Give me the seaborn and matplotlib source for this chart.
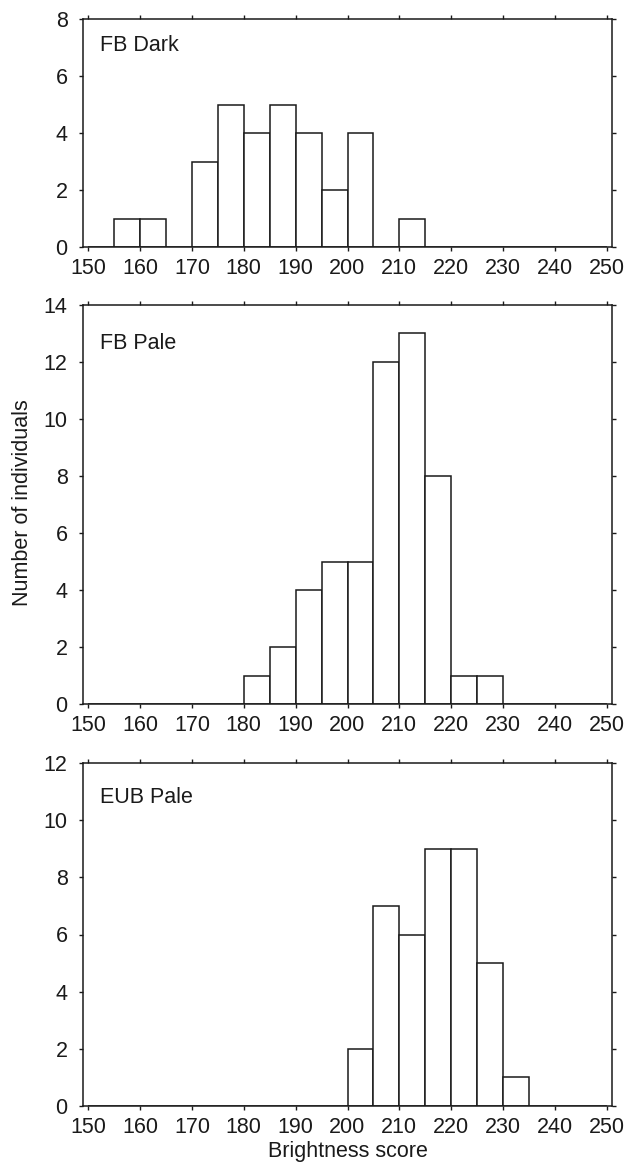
import numpy as np
import pandas as pd
import matplotlib
matplotlib.use("Agg")
import matplotlib.pyplot as plt
import seaborn as sns

# Data (bin lower edges and counts)
bin_edges = list(range(150, 255, 5))
panel_names = ["FB Dark", "FB Pale", "EUB Pale"]
fb_dark_bins = [155, 160, 170, 175, 180, 185, 190, 195, 200, 210]
fb_dark_counts = [1, 1, 3, 5, 4, 5, 4, 2, 4, 1]
fb_pale_bins = [180, 185, 190, 195, 200, 205, 210, 215, 220, 225]
fb_pale_counts = [1, 2, 4, 5, 5, 12, 13, 8, 1, 1]
eub_pale_bins = [200, 205, 210, 215, 220, 225, 230]
eub_pale_counts = [2, 7, 6, 9, 9, 5, 1]
y_max = [8, 14, 12]
x_ticks = list(range(150, 260, 10))

sns.set_theme(style="ticks")
plt.rcParams['font.family'] = ['Liberation Sans', 'DejaVu Sans']

fig = plt.figure(figsize=(6.35, 11.68), dpi=100)
W, H = 635, 1168
left, right = 83 / W, 612 / W
boxes = [(19, 247), (305, 704), (763, 1106)]
datasets = [(fb_dark_bins, fb_dark_counts), (fb_pale_bins, fb_pale_counts),
            (eub_pale_bins, eub_pale_counts)]

ink = "#1a1a1a"
fs = 15.5
axes = []
for (top, bot), (bins_lo, counts), name, ym in zip(boxes, datasets, panel_names, y_max):
    ax = fig.add_axes([left, 1 - bot / H, right - left, (bot - top) / H])
    df = pd.DataFrame({"score": [b + 2.5 for b in bins_lo], "n": counts})
    sns.histplot(data=df, x="score", weights="n", bins=bin_edges, ax=ax,
                 color="white", edgecolor=ink, linewidth=1.1, alpha=1)
    ax.set_xlim(149, 251)
    ax.set_ylim(0, ym)
    ax.set_xticks(x_ticks)
    ax.set_yticks(list(range(0, ym + 1, 2)))
    ax.tick_params(axis="both", which="major", labelsize=fs, length=3,
                   width=1, color=ink, labelcolor=ink, top=True, right=True,
                   direction="out")
    ax.tick_params(axis="y", pad=8)
    ax.tick_params(axis="x", pad=5)
    for s in ax.spines.values():
        s.set_visible(True)
        s.set_linewidth(1.1)
        s.set_color(ink)
    ax.set_xlabel("")
    ax.set_ylabel("")
    ax.text(0.033, 0.93, name, transform=ax.transAxes, fontsize=fs,
            ha="left", va="top", color=ink)
    axes.append(ax)

fig.text((left + right) / 2, 1 - 1151 / H, "Brightness score",
         ha="center", va="center", fontsize=fs, color=ink)
fig.text(23 / W, 1 - 503 / H, "Number of individuals", rotation=90,
         ha="center", va="center", fontsize=fs, color=ink)

fig.savefig("out.png", dpi=100, facecolor="white")
